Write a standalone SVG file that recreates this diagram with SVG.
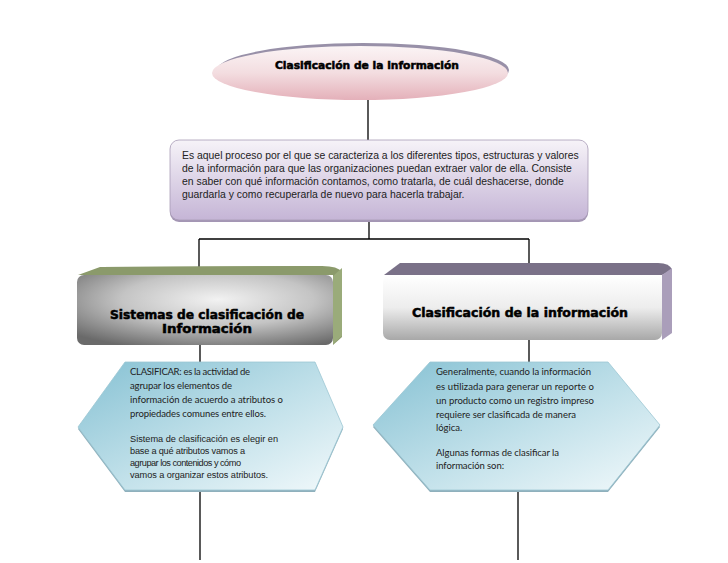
<svg xmlns="http://www.w3.org/2000/svg" width="728" height="563" viewBox="0 0 728 563">
<defs>
<linearGradient id="gPink" x1="0" y1="0" x2="0" y2="1">
<stop offset="0" stop-color="#fbf4f5"/>
<stop offset="0.5" stop-color="#f3dde0"/>
<stop offset="1" stop-color="#e4b0b9"/>
</linearGradient>
<linearGradient id="gBox" x1="0" y1="0" x2="0" y2="1">
<stop offset="0" stop-color="#f6f3f8"/>
<stop offset="1" stop-color="#c5b5d6"/>
</linearGradient>
<radialGradient id="gGray" cx="0.55" cy="0.35" r="0.75">
<stop offset="0" stop-color="#f2f2f2"/>
<stop offset="0.5" stop-color="#c4c4c4"/>
<stop offset="1" stop-color="#6a6a6a"/>
</radialGradient>
<linearGradient id="gWhite" x1="0" y1="0" x2="0" y2="1">
<stop offset="0" stop-color="#ffffff"/>
<stop offset="0.5" stop-color="#ededed"/>
<stop offset="1" stop-color="#a8a8a8"/>
</linearGradient>
<linearGradient id="gHex" x1="0" y1="0" x2="1" y2="1">
<stop offset="0" stop-color="#86c1d3"/>
<stop offset="0.55" stop-color="#c2e1ea"/>
<stop offset="1" stop-color="#f2f9fb"/>
</linearGradient>
</defs>
<style>
.ln{stroke:#000;stroke-width:1.3;fill:none}
.body{font-family:"Liberation Sans",Arial,sans-serif;font-size:10.4px;fill:#222}
.cal{font-family:Lato,"Open Sans",sans-serif;font-size:9.5px;fill:#222}
.ar{font-family:"Liberation Sans",Arial,sans-serif;font-size:9.2px;fill:#222}
.hd{font-family:"DejaVu Sans",sans-serif;font-weight:bold;fill:#000;stroke:#000;stroke-width:0.5}
.hex{fill:url(#gHex);stroke:#9cc6d3;stroke-width:0.8}
</style>
<g id="connectors">
<line class="ln" x1="368" y1="98" x2="368" y2="140"/>
<line class="ln" x1="369" y1="220" x2="369" y2="239"/>
<line class="ln" x1="199" y1="239" x2="529" y2="239"/>
<line class="ln" x1="199" y1="239" x2="199" y2="275"/>
<line class="ln" x1="529" y1="239" x2="529" y2="275"/>
<line class="ln" x1="200" y1="345" x2="200" y2="362"/>
<line class="ln" x1="529" y1="340" x2="529" y2="362"/>
<line class="ln" x1="200" y1="490" x2="200" y2="560"/>
<line class="ln" x1="518" y1="490" x2="518" y2="560"/>
</g>
<g id="node-title">
<ellipse cx="363" cy="70" rx="146" ry="27" fill="#9890a8"/>
<ellipse cx="360" cy="73" rx="148" ry="27" fill="url(#gPink)"/>
<text class="hd" x="367" y="69" font-size="10.5" text-anchor="middle" textLength="184" lengthAdjust="spacingAndGlyphs">Clasificación de la información</text>
</g>
<g id="node-definition">
<rect x="170" y="142" width="418" height="80" rx="9" fill="#a496b4"/>
<rect x="170" y="140" width="418" height="80" rx="9" fill="url(#gBox)" stroke="#a89cb6" stroke-width="0.8"/>
<text class="body" x="182" y="159">Es aquel proceso por el que se caracteriza a los diferentes  tipos, estructuras y valores</text>
<text class="body" x="182" y="172">de la información para que las organizaciones puedan extraer  valor de ella. Consiste</text>
<text class="body" x="182" y="185">en saber con qué información contamos, como tratarla, de cuál deshacerse, donde</text>
<text class="body" x="182" y="198">guardarla y como recuperarla de nuevo para hacerla trabajar.</text>
</g>
<g id="node-sistemas">
<path d="M100,267 L322,266 Q338,266 342,272 L342,337 L333,345 L333,275 Z" fill="#8b9a6b"/>
<path d="M100,267 L322,266 L333,275 L78,275 Z" fill="#8b9a6b"/>
<path d="M333,276 L342,268 L342,336 L333,344 Z" fill="#9aab7a"/>
<rect x="77" y="275" width="256" height="70" rx="7" fill="url(#gGray)"/>
<text class="hd" x="207" y="319" font-size="12" text-anchor="middle" textLength="194" lengthAdjust="spacingAndGlyphs">Sistemas de clasificación de</text>
<text class="hd" x="207" y="333" font-size="12" text-anchor="middle" textLength="90" lengthAdjust="spacingAndGlyphs">Información</text>
</g>
<g id="node-clasificacion">
<path d="M400,263 L658,263 Q670,263 672,270 L662,275 L384,275 Z" fill="#7a7188"/>
<path d="M662,275 L672,268 L672,333 L662,340 Z" fill="#aa9eba"/>
<rect x="383" y="275" width="279" height="65" rx="7" fill="url(#gWhite)"/>
<text class="hd" x="520" y="317" font-size="12.5" text-anchor="middle" textLength="216" lengthAdjust="spacingAndGlyphs">Clasificación de la información</text>
</g>
<g id="node-hex-left">
<polygon points="125,364 315,364 343,429 315,492 125,492 78,429" fill="#8fb0bc"/>
<polygon class="hex" points="125,362 315,362 343,427 315,490 125,490 78,427"/>
<text class="cal" x="130" y="375" textLength="120" lengthAdjust="spacing">CLASIFICAR: es la actividad de</text>
<text class="cal" x="130" y="389" textLength="102" lengthAdjust="spacing">agrupar los elementos de</text>
<text class="cal" x="130" y="403" textLength="153" lengthAdjust="spacing">información de acuerdo a atributos o</text>
<text class="cal" x="130" y="417" textLength="136" lengthAdjust="spacing">propiedades comunes entre ellos.</text>
<text class="ar" x="130" y="442" textLength="148" lengthAdjust="spacing">Sistema de clasificación es elegir en</text>
<text class="ar" x="130" y="454" textLength="115" lengthAdjust="spacing">base a qué atributos vamos a</text>
<text class="ar" x="130" y="466" textLength="111" lengthAdjust="spacing">agrupar los contenidos y cómo</text>
<text class="ar" x="130" y="478" textLength="138" lengthAdjust="spacing">vamos a organizar estos atributos.</text>
</g>
<g id="node-hex-right">
<polygon points="430,364 608,364 660,427 608,492 430,492 373,427" fill="#8fb0bc"/>
<polygon class="hex" points="430,362 608,362 660,425 608,490 430,490 373,425"/>
<text class="cal" x="436" y="375" textLength="155" lengthAdjust="spacing">Generalmente, cuando la información</text>
<text class="cal" x="436" y="390" textLength="158" lengthAdjust="spacing">es utilizada para generar un reporte o</text>
<text class="cal" x="436" y="404" textLength="158" lengthAdjust="spacing">un producto como un registro impreso</text>
<text class="cal" x="436" y="418" textLength="140" lengthAdjust="spacing">requiere ser clasificada de manera</text>
<text class="cal" x="436" y="431">lógica.</text>
<text class="cal" x="436" y="456" textLength="123" lengthAdjust="spacing">Algunas formas de clasificar la</text>
<text class="cal" x="436" y="469" textLength="68" lengthAdjust="spacing">información son:</text>
</g>
</svg>
